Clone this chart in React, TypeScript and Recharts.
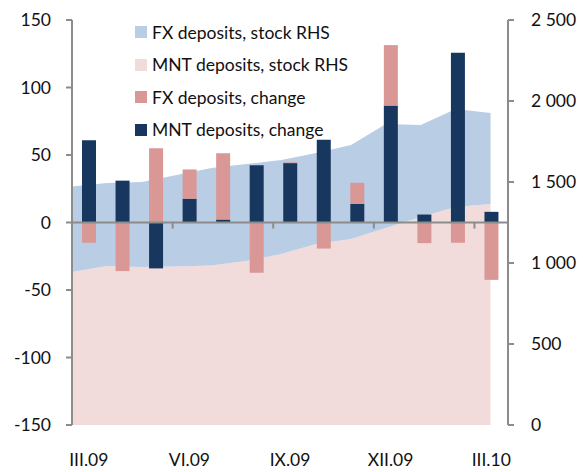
import React from "react";
import {
  ComposedChart,
  Bar,
  Area,
  XAxis,
  YAxis,
  ReferenceLine,
} from "recharts";

const months = ["III.09", "IV.09", "V.09", "VI.09", "VII.09", "VIII.09", "IX.09", "X.09", "XI.09", "XII.09", "I.10", "II.10", "III.10"];
const mntChange = [61, 31, -34, 17.6, 2.2, 42.5, 44, 61.3, 13.8, 86.6, 5.9, 125.7, 7.9];
const fxChange = [-15, -36, 55, 21.7, 49.1, -37.3, 0.6, -19.3, 15.6, 44.8, -15.3, -15, -42.5];
const mntStock = [944, 981, 975, 978, 985, 1012, 1055, 1117, 1148, 1216, 1284, 1346, 1364];
const fxStock = [528, 513, 525, 565, 601, 599, 581, 562, 580, 642, 568, 605, 562];
const leftTicks = [-150, -100, -50, 0, 50, 100, 150];
const rightTicks = [0, 500, 1000, 1500, 2000, 2500];
const boundaryTicks = [3, 6, 9, 12];

const C_FX_STOCK = "#b9cde5";
const C_MNT_STOCK = "#f2dcdb";
const C_FX_CHG = "#d99795";
const C_MNT_CHG = "#17375e";
const AXIS = "#8c8c8c";
const FONT = "Lato, 'Open Sans', sans-serif";

const data = months.map((m, i) => ({
  month: m,
  idx: i,
  mntChange: mntChange[i],
  fxChange: fxChange[i],
  mntStock: mntStock[i],
  fxStock: fxStock[i],
}));

const legendItems = [
  { label: "FX deposits, stock RHS", color: C_FX_STOCK },
  { label: "MNT deposits, stock RHS", color: C_MNT_STOCK },
  { label: "FX deposits, change", color: C_FX_CHG },
  { label: "MNT deposits, change", color: C_MNT_CHG },
];

const fmtRight = (v: number) =>
  v >= 1000 ? `${Math.floor(v / 1000)} ${String(v % 1000).padStart(3, "0")}` : String(v);

const tickStyle = { fill: "#111", fontSize: 17.5, fontFamily: FONT };

export default function App() {
  return (
    <div style={{ position: "relative", width: 583, height: 472, fontFamily: FONT }}>
      <style>{"html,body{margin:0;padding:0;overflow:hidden;}"}</style>
      <ComposedChart
        width={583}
        height={472}
        data={data}
        stackOffset="sign"
        margin={{ top: 20, right: 0, bottom: 0, left: 0 }}
      >
        <XAxis
          xAxisId="cat"
          dataKey="month"
          type="category"
          interval={2}
          axisLine={false}
          tickLine={false}
          tickSize={0}
          tickMargin={29}
          height={47}
          tick={tickStyle}
        />
        <XAxis xAxisId="idx" dataKey="idx" type="number" domain={[0, 12.5]} allowDataOverflow hide height={0} />
        <XAxis xAxisId="bnd" dataKey="idx" type="number" domain={[0, 13]} allowDataOverflow hide height={0} />
        <YAxis
          yAxisId="left"
          orientation="left"
          domain={[-150, 150]}
          ticks={leftTicks}
          interval={0}
          width={72}
          axisLine={{ stroke: AXIS, strokeWidth: 2 }}
          tickLine={{ stroke: AXIS, strokeWidth: 2 }}
          tickSize={6}
          tickMargin={15}
          tick={tickStyle}
        />
        <YAxis
          yAxisId="right"
          orientation="right"
          domain={[0, 2500]}
          ticks={rightTicks}
          interval={0}
          width={75}
          axisLine={{ stroke: AXIS, strokeWidth: 2 }}
          tickLine={{ stroke: AXIS, strokeWidth: 2 }}
          tickSize={6}
          tickMargin={17}
          tickFormatter={fmtRight}
          tick={{ ...tickStyle, textAnchor: "start" }}
        />
        <Area
          xAxisId="idx"
          yAxisId="right"
          dataKey="mntStock"
          stackId="stock"
          type="linear"
          stroke="none"
          fill={C_MNT_STOCK}
          fillOpacity={1}
          isAnimationActive={false}
        />
        <Area
          xAxisId="idx"
          yAxisId="right"
          dataKey="fxStock"
          stackId="stock"
          type="linear"
          stroke="none"
          fill={C_FX_STOCK}
          fillOpacity={1}
          isAnimationActive={false}
        />
        <Bar
          xAxisId="cat"
          yAxisId="left"
          dataKey="mntChange"
          stackId="chg"
          fill={C_MNT_CHG}
          barSize={14}
          isAnimationActive={false}
        />
        <Bar
          xAxisId="cat"
          yAxisId="left"
          dataKey="fxChange"
          stackId="chg"
          fill={C_FX_CHG}
          barSize={14}
          isAnimationActive={false}
        />
        <ReferenceLine xAxisId="cat" yAxisId="left" y={0} stroke={AXIS} strokeWidth={2} />
        {boundaryTicks.map((t) => (
          <ReferenceLine
            key={t}
            xAxisId="bnd"
            yAxisId="left"
            segment={[
              { x: t, y: 0 },
              { x: t, y: -4.5 },
            ]}
            stroke={AXIS}
            strokeWidth={2}
          />
        ))}
      </ComposedChart>
      <div style={{ position: "absolute", left: 135, top: 16, pointerEvents: "none" }}>
        {legendItems.map((it) => (
          <div
            key={it.label}
            style={{ display: "flex", alignItems: "center", height: 32.5, fontSize: 17.5, color: "#111", whiteSpace: "nowrap" }}
          >
            <span style={{ display: "inline-block", width: 12, height: 12, background: it.color, marginRight: 5 }} />
            <span>{it.label}</span>
          </div>
        ))}
      </div>
    </div>
  );
}
